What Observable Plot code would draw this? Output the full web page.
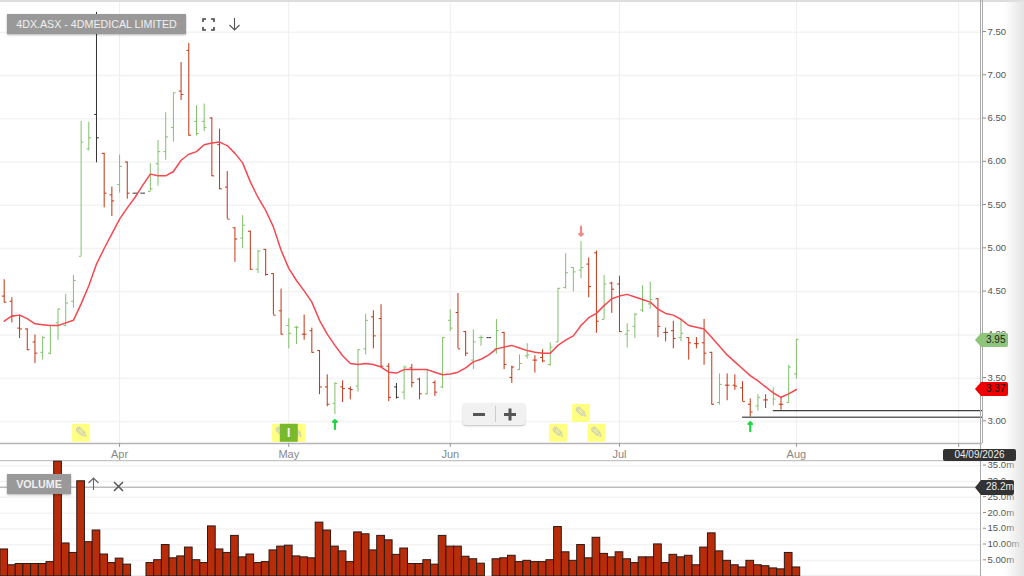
<!DOCTYPE html>
<html><head><meta charset="utf-8">
<script src="https://cdn.jsdelivr.net/npm/d3@7"></script>
<script src="https://cdn.jsdelivr.net/npm/@observablehq/plot@0.6"></script>
<style>
html,body{margin:0;padding:0;background:#fff}
#page{position:relative;width:1024px;height:576px;overflow:hidden;font-family:"Liberation Sans",Arial,sans-serif}
#page svg{position:absolute;left:0;background:transparent}
.ov{position:absolute}
.lbl{background:#999;color:#f0f0f0;font-size:10.7px;line-height:20px;height:20px;text-align:center;box-shadow:0 1px 2px rgba(0,0,0,.3)}
.flag{left:975px;clip-path:polygon(0 50%,6px 0,100% 0,100% 100%,6px 100%);font-size:10px;text-indent:11px;line-height:14px;height:14px;border-radius:2px}
</style></head><body>
<div id="page"></div>
<script>
const high=[4.64,4.43,4.23,4.07,4.00,3.98,4.11,4.30,4.47,4.69,6.47,6.46,7.73,6.10,5.71,6.08,6.00,5.64,5.64,5.98,6.25,6.57,6.80,7.15,7.37,6.65,6.67,6.51,6.38,5.89,5.24,5.38,5.20,4.98,4.99,4.71,4.53,4.19,4.10,4.23,4.08,3.82,3.54,3.45,3.47,3.40,3.83,4.24,4.28,4.35,3.67,3.44,3.64,3.66,3.50,3.60,3.47,3.97,4.29,4.48,4.04,4.06,3.99,3.97,4.18,4.03,3.64,3.77,3.90,3.76,3.83,3.91,4.54,4.94,4.78,5.08,4.89,4.97,4.69,4.61,4.68,4.13,4.25,4.57,4.61,4.42,4.08,4.16,4.19,3.97,3.97,4.18,3.80,3.55,3.55,3.54,3.46,3.26,3.31,3.31,3.39,3.28,3.65,3.95];
const low=[4.37,4.14,3.96,3.82,3.67,3.71,3.77,3.94,4.10,4.31,4.91,6.13,5.99,5.47,5.37,5.64,5.57,5.64,5.64,5.66,5.72,6.02,6.23,6.71,6.30,6.30,6.35,5.83,5.68,5.34,4.84,5.00,4.75,4.71,4.68,4.23,4.00,3.84,3.89,3.94,3.79,3.31,3.17,3.08,3.22,3.25,3.34,3.77,3.84,3.63,3.23,3.26,3.25,3.39,3.25,3.31,3.29,3.38,4.04,3.84,3.75,3.60,3.87,3.97,3.78,3.60,3.44,3.59,3.72,3.56,3.68,3.64,3.91,4.53,4.50,4.65,4.43,4.02,4.18,4.25,4.03,3.85,3.96,4.26,4.30,3.97,3.92,3.84,3.92,3.71,3.84,3.65,3.19,3.19,3.24,3.36,3.23,3.05,3.12,3.15,3.18,3.13,3.21,3.49];
const open=[4.45,4.39,4.08,4.07,3.92,3.80,3.79,4.14,4.11,4.39,4.91,6.15,6.55,6.10,5.62,5.74,6.00,5.64,5.64,5.66,5.98,6.12,6.40,6.82,7.29,6.47,6.47,6.51,6.20,5.71,5.24,5.12,5.20,4.76,4.99,4.71,4.28,4.11,4.09,4.01,4.05,3.82,3.40,3.21,3.40,3.38,3.41,3.84,4.21,4.19,3.64,3.40,3.34,3.62,3.49,3.32,3.45,3.40,4.17,4.26,4.04,3.71,3.97,3.97,3.84,4.03,3.51,3.60,3.76,3.71,3.74,3.66,3.92,4.55,4.78,4.75,4.82,4.95,4.18,4.60,4.59,4.01,4.10,4.29,4.36,4.42,4.03,4.05,3.97,3.97,3.90,3.91,3.80,3.22,3.42,3.42,3.39,3.20,3.18,3.25,3.35,3.20,3.22,3.55];
const close=[4.38,4.22,4.07,3.83,3.79,3.97,4.11,4.30,4.37,4.63,6.23,6.28,6.28,5.64,5.55,5.95,5.64,5.64,5.64,5.69,6.12,6.29,6.80,6.78,6.31,6.33,6.40,5.84,5.69,5.34,5.11,5.27,4.76,4.97,4.70,4.23,4.01,4.02,4.09,4.01,3.80,3.40,3.20,3.44,3.38,3.37,3.83,4.17,3.99,3.64,3.28,3.28,3.63,3.45,3.32,3.59,3.34,3.97,4.08,3.84,3.79,3.92,3.97,3.97,4.05,3.66,3.63,3.67,3.77,3.71,3.70,3.86,4.54,4.72,4.73,4.78,4.56,4.16,4.59,4.53,4.04,4.05,4.24,4.40,4.41,4.10,4.03,3.96,4.02,3.91,3.90,3.79,3.20,3.43,3.42,3.41,3.23,3.11,3.28,3.25,3.26,3.20,3.63,3.95];
const ma=[4.16,4.22,4.23,4.19,4.13,4.12,4.11,4.11,4.14,4.17,4.36,4.57,4.82,5.00,5.17,5.34,5.47,5.59,5.73,5.86,5.84,5.84,5.89,6.02,6.09,6.12,6.20,6.22,6.23,6.19,6.10,5.99,5.77,5.59,5.44,5.25,4.98,4.77,4.63,4.51,4.38,4.17,4.01,3.88,3.76,3.67,3.66,3.67,3.66,3.63,3.57,3.56,3.60,3.60,3.60,3.60,3.57,3.54,3.55,3.57,3.62,3.69,3.72,3.77,3.84,3.86,3.88,3.85,3.82,3.80,3.79,3.79,3.88,3.94,3.99,4.11,4.20,4.25,4.34,4.42,4.45,4.47,4.44,4.41,4.38,4.30,4.25,4.23,4.18,4.11,4.09,4.07,3.97,3.87,3.77,3.69,3.61,3.53,3.47,3.40,3.33,3.28,3.32,3.37];
const volume=[8.5,3.5,3.9,3.9,3.9,3.9,4.5,36.3,10.4,7.4,30.1,10.8,14.5,6.9,4.2,5.6,3.7,0,0,4.2,5.1,9.9,5.7,6.3,9.1,5.1,4.2,15.8,8.5,7.4,12.8,6.0,6.9,4.2,4.5,8.2,9.4,9.7,6.3,6.0,5.7,17.0,14.5,9.4,7.9,4.5,13.9,13.3,8.2,12.8,11.4,6.8,8.8,3.9,3.9,5.1,3.7,12.8,9.4,9.4,6.2,5.4,4.0,0,5.4,5.7,6.5,4.5,4.9,4.5,4.5,5.1,15.6,7.6,4.9,9.9,5.7,12.2,7.1,6.0,7.6,5.4,4.2,6.0,6.0,10.1,4.2,6.8,6.0,6.5,3.5,9.1,13.6,7.9,4.9,3.5,2.8,4.9,3.5,3.2,2.5,2.2,7.4,2.8];
const tickIdx=[15,37,58,80,103,124.1];
const tickText=["Apr","May","Jun","Jul","Aug",""];
const priceTicks=[3,3.5,4,4.5,5,5.5,6,6.5,7,7.5];
const volTicks=[5,10,15,20,25,30,35];
const volText=["5.00m","10.00m","15.0m","20.0m","25.0m","30.0","35.0m"];
const pencils=[[10,2.87],[36,2.87],[38,2.87],[72,2.87],[75,3.10],[77,2.87]];
const infoMark=[[37,2.87]];
const upArrows=[[43,2.965],[97,2.94]];
const downArrows=[[75,5.2]];
const priceLines=[{y:3.125,from:100,c:"#111",w:1},{y:3.05,from:96,c:"#666",w:1.6}];

const XD=[-0.481,127.2];
const colors={up:"#82c06c",down:"#bf3413",flat:"#333333"};
const bars=high.map((h,i)=>({i,high:h,low:low[i],open:open[i],close:close[i],
  dir:i===0?"down":close[i]>close[i-1]?"up":close[i]<close[i-1]?"down":"flat"}));
const T=0.3;
const price=Plot.plot({
  width:1024,height:460,marginLeft:0,marginRight:42,marginTop:0,marginBottom:17,
  style:{fontFamily:'"Liberation Sans",Arial,sans-serif',fontSize:"9.6px",background:"transparent"},
  x:{domain:XD,label:null},
  y:{domain:[2.746,7.867],range:[443,0],label:null},
  color:{domain:["up","down","flat"],range:[colors.up,colors.down,colors.flat]},
  marks:[
    Plot.ruleY(priceTicks,{stroke:"#f3f3f3",strokeWidth:1.5}),
    Plot.ruleX(tickIdx,{stroke:"#eeeeee",strokeWidth:1}),
    Plot.ruleY([2.746],{stroke:"#b5b5b5",strokeWidth:1.5}),
    Plot.axisX({ticks:tickIdx,tickFormat:d=>tickText[tickIdx.indexOf(d)],tickSize:4,tickPadding:3,stroke:"#999",fill:"#888",label:null,fontSize:11}),
    Plot.axisY({anchor:"right",ticks:priceTicks,tickFormat:d=>d.toFixed(2),tickSize:3,tickPadding:2,stroke:"#888",fill:"#555",label:null,dy:-0.7}),
    Plot.ruleX(bars,{x:"i",y1:"low",y2:"high",stroke:"dir",strokeWidth:1}),
    Plot.link(bars,{x1:d=>d.i-T,x2:"i",y1:"open",y2:"open",stroke:"dir",strokeWidth:1}),
    Plot.link(bars,{x1:"i",x2:d=>d.i+T,y1:"close",y2:"close",stroke:"dir",strokeWidth:1}),
    Plot.line(ma,{x:(d,i)=>i,y:d=>d,stroke:"#f5484f",strokeWidth:1.5}),
    ...priceLines.map(l=>Plot.ruleY([l.y],{x1:l.from,x2:XD[1],stroke:l.c,strokeWidth:l.w})),
    Plot.dot(pencils,{x:"0",y:"1",symbol:"square",r:10.15,fill:"#ffff80",stroke:"none"}),
    Plot.text(pencils,{x:"0",y:"1",text:()=>"✎",fill:"#c6c6c6",fontSize:16,fontWeight:"bold",fontFamily:"DejaVu Sans"}),
    Plot.dot(infoMark,{x:"0",y:"1",symbol:"square",r:10.15,fill:"#7ab82e",stroke:"none"}),
    Plot.text(infoMark,{x:"0",y:"1",text:()=>"I",fill:"#fff",fontSize:12,fontWeight:"bold"}),
    Plot.vector(upArrows,{x:"0",y:"1",rotate:0,length:9,anchor:"middle",stroke:"#22d64a",strokeWidth:2.2}),
    Plot.vector(downArrows,{x:"0",y:"1",rotate:180,length:9,anchor:"middle",stroke:"#f28a8a",strokeWidth:2.2})
  ]
});
price.style.top="0px";

const volBars=volume.map((v,i)=>({i,v})).filter(d=>d.v>0);
const vol=Plot.plot({
  width:1024,height:116,marginLeft:0,marginRight:42,marginTop:0,marginBottom:0,
  style:{fontFamily:'"Liberation Sans",Arial,sans-serif',fontSize:"9.6px",background:"transparent"},
  x:{domain:XD,label:null,axis:null},
  y:{domain:[0,36.68],range:[115.8,0],label:null},
  marks:[
    Plot.ruleY(volTicks,{stroke:"#f3f3f3",strokeWidth:1.5}),
    Plot.ruleY([36.68],{stroke:"#c4c4c4",strokeWidth:1.5}),
    Plot.ruleY([28.2],{stroke:"#bdbdbd",strokeWidth:1.5}),
    Plot.ruleY([0],{stroke:"#ddd",strokeWidth:1.5}),
    Plot.axisY({anchor:"right",ticks:volTicks,tickFormat:d=>volText[volTicks.indexOf(d)],tickSize:3,tickPadding:2,stroke:"#888",fill:"#555",label:null,dy:-0.7}),
    Plot.rect(volBars,{x1:d=>d.i-0.5,x2:d=>d.i+0.5,y1:0,y2:"v",fill:"#b92c0a",stroke:"#2a1a14",strokeWidth:1})
  ]
});
vol.style.top="460px";

const page=document.getElementById("page");
page.append(price,vol);
function ov(html,css,cls){const d=document.createElement("div");d.className="ov "+(cls||"");d.style.cssText=css;d.innerHTML=html;page.append(d);return d;}
ov("","left:0;top:0;width:1024px;height:2px;background:#ddd");
ov("","left:980px;top:0;width:1px;height:576px;background:#aaa");
ov("","left:982px;top:0;width:1px;height:443px;background:#aaa");
ov("","left:1004px;top:0;width:20px;height:576px;background:linear-gradient(to right,rgba(225,225,225,0),rgba(225,225,225,.9))");
ov("4DX.ASX - 4DMEDICAL LIMITED","left:7px;top:14px;width:179px","lbl");
ov('<svg width="13" height="13" style="position:static"><path d="M1 4V1H4M9 1H12V4M12 9V12H9M4 12H1V9" fill="none" stroke="#444" stroke-width="1.6"/></svg>',"left:202px;top:17px");
ov('<svg width="13" height="14" style="position:static"><path d="M6.5 1V13M1.5 8L6.5 13L11.5 8" fill="none" stroke="#555" stroke-width="1.1"/></svg>',"left:228px;top:17px");
ov("VOLUME","left:7px;top:474px;width:64px;font-weight:bold","lbl");
ov('<svg width="13" height="14" style="position:static"><path d="M6.5 13V1M1.5 6L6.5 1L11.5 6" fill="none" stroke="#666" stroke-width="1.1"/></svg>',"left:87px;top:477px");
ov('<svg width="11" height="11" style="position:static"><path d="M1 1L10 10M10 1L1 10" fill="none" stroke="#555" stroke-width="1.5"/></svg>',"left:113px;top:478px");
ov('<svg width="62" height="22" style="position:static"><path d="M10 11.5H22M41 11.5H53M47 5.5V17.5" stroke="#555" stroke-width="3" fill="none"/><path d="M32.5 3V19" stroke="#ccc"/></svg>',"left:463px;top:403px;width:62px;height:22px;background:#f1f1f1;border-radius:3px;box-shadow:0 1px 2px rgba(0,0,0,.25)");
ov("3.95","top:333px;width:33px;background:#8fc47c;color:#222","flag");
ov("3.37","top:382px;width:33px;background:#f00000;color:#111","flag");
ov("28.2m","top:480px;width:39px;height:15px;background:#333;color:#eee","flag");
ov("04/09/2026","left:943px;top:449px;width:73px;height:12px;line-height:12px;background:#333;color:#eee;font-size:10px;text-align:center;border-radius:2px");
</script>
</body></html>
